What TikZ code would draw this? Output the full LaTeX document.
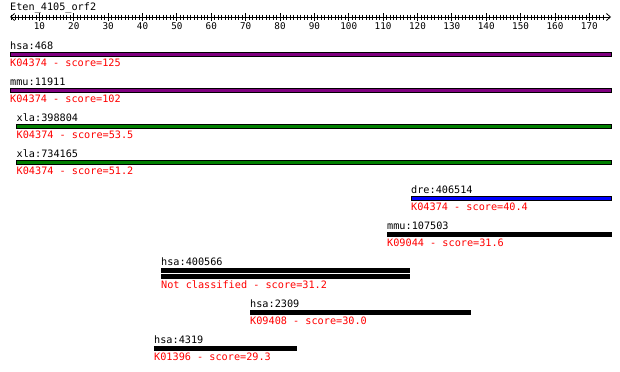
\documentclass[tikz,border=0pt]{standalone}
\usepackage{fontspec}
\setmonofont{DejaVu Sans Mono}
\usetikzlibrary{arrows.meta}
\definecolor{kpurple}{HTML}{800080}
\definecolor{kgreen}{HTML}{008000}
\definecolor{kblue}{HTML}{0000FF}
\definecolor{kred}{HTML}{FF0000}
\tikzset{
  lbl/.style={anchor=base west,inner sep=0pt,font=\ttfamily\fontsize{10.2bp}{12bp}\selectfont,text=black},
  scr/.style={lbl,text=kred},
  num/.style={anchor=base,inner sep=0pt,font=\ttfamily\fontsize{9.3bp}{11bp}\selectfont},
  bar/.style={draw=black,line width=1bp},
  minortick/.style={line width=0.8bp},
  majortick/.style={line width=0.8bp},
  axisline/.style={line width=0.8bp,{Straight Barb[length=4bp,width=7bp]}-{Straight Barb[length=4bp,width=7bp]}}
}
\begin{document}
\begin{tikzpicture}[x=1bp,y=-1bp]
\useasboundingbox[fill=white] (0,0) rectangle (620,371);
% title and axis
\node[lbl] (title) at (10,10) {Eten\_4105\_orf2};
\coordinate (axl) at (10,17);
\coordinate (axr) at (611,17);
\draw[axisline] (axl) -- (axr);
\foreach \p in {2,...,174} \draw[minortick] ({5+3.4375*\p},14.5) -- ++(0,5);
\foreach \p in {10,20,...,170} {
  \draw[majortick] ({5+3.4375*\p},13) -- ++(0,8);
  \node[num] (n\p) at ({5+3.4375*\p},29) {\p};
}
% row 1
\node[lbl] (l1) at (10,49) {hsa:468};
\draw[bar,fill=kpurple] (10,52) rectangle (611,56);
\node[scr] (s1) at (10,66) {K04374 - score=125};
% row 2
\node[lbl] (l2) at (10,85.5) {mmu:11911};
\draw[bar,fill=kpurple] (10,88.3) rectangle (611,92.3);
\node[scr] (s2) at (10,102.5) {K04374 - score=102};
% row 3
\node[lbl] (l3) at (16.5,121.5) {xla:398804};
\draw[bar,fill=kgreen] (16.5,124.3) rectangle (611,128.3);
\node[scr] (s3) at (16.5,138.5) {K04374 - score=53.5};
% row 4
\node[lbl] (l4) at (16.5,157) {xla:734165};
\draw[bar,fill=kgreen] (16.5,160) rectangle (611,164);
\node[scr] (s4) at (16.5,174.5) {K04374 - score=51.2};
% row 5
\node[lbl] (l5) at (411,193.5) {dre:406514};
\draw[bar,fill=kblue] (411,196.3) rectangle (611,200.3);
\node[scr] (s5) at (411,210.5) {K04374 - score=40.4};
% row 6
\node[lbl] (l6) at (387,229.5) {mmu:107503};
\draw[bar,fill=black] (387,232.3) rectangle (611,236.3);
\node[scr] (s6) at (387,246.5) {K09044 - score=31.6};
% row 7
\node[lbl] (l7) at (161,265) {hsa:400566};
\draw[bar,fill=black] (161,268.2) rectangle (409,272.2);
\draw[bar,fill=black] (161,274.3) rectangle (409,278.3);
\node[scr] (s7) at (161,288.5) {Not classified - score=31.2};
% row 8
\node[lbl] (l8) at (250,307.5) {hsa:2309};
\draw[bar,fill=black] (250,310.5) rectangle (470,314.5);
\node[scr] (s8) at (250,324.5) {K09408 - score=30.0};
% row 9
\node[lbl] (l9) at (154,343.5) {hsa:4319};
\draw[bar,fill=black] (154,346.5) rectangle (296,350.5);
\node[scr] (s9) at (154,360.5) {K01396 - score=29.3};
\end{tikzpicture}
\end{document}
